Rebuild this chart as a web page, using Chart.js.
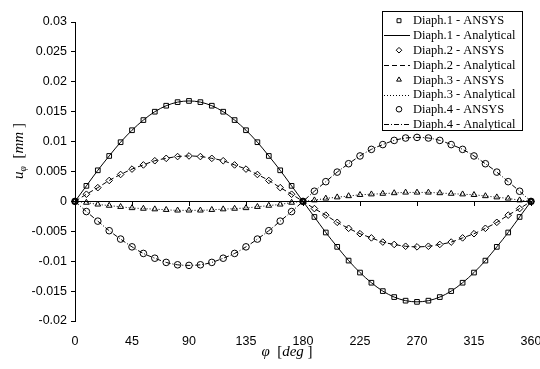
<!DOCTYPE html>
<html>
<head>
<meta charset="utf-8">
<script src="https://cdn.jsdelivr.net/npm/chart.js@4.4.1/dist/chart.umd.min.js"></script>
<style>
  html, body { margin: 0; padding: 0; background: #fff; }
</style>
</head>
<body>
<canvas id="diaphChart" width="540" height="369"></canvas>
<script>
// angular position of the nodes, deg
const angles = [0, 9, 18, 27, 36, 45, 54, 63, 72, 81, 90, 99, 108, 117, 126, 135, 144, 153, 162, 171,
  180, 189, 198, 207, 216, 225, 234, 243, 252, 261, 270, 279, 288, 297, 306, 315, 324, 333, 342, 351, 360];

// tangential displacement u_phi, mm
const diaph1 = [0, 0.0026, 0.0052, 0.0076, 0.0099, 0.0119, 0.0136, 0.0150, 0.0160, 0.0166, 0.0168,
  0.0166, 0.0160, 0.0150, 0.0136, 0.0119, 0.0099, 0.0076, 0.0052, 0.0026, 0,
  -0.0026, -0.0052, -0.0076, -0.0099, -0.0119, -0.0136, -0.0150, -0.0160, -0.0166, -0.0168,
  -0.0166, -0.0160, -0.0150, -0.0136, -0.0119, -0.0099, -0.0076, -0.0052, -0.0026, 0];
const diaph2 = [0, 0.0012, 0.0023, 0.0035, 0.0045, 0.0054, 0.0061, 0.0068, 0.0072, 0.0075, 0.0076,
  0.0075, 0.0072, 0.0068, 0.0061, 0.0054, 0.0045, 0.0035, 0.0023, 0.0012, 0,
  -0.0012, -0.0023, -0.0035, -0.0045, -0.0054, -0.0061, -0.0068, -0.0072, -0.0075, -0.0076,
  -0.0075, -0.0072, -0.0068, -0.0061, -0.0054, -0.0045, -0.0035, -0.0023, -0.0012, 0];
const diaph3 = [0, -0.0002, -0.0005, -0.0007, -0.0009, -0.0011, -0.0012, -0.0013, -0.0014, -0.0015, -0.0015,
  -0.0015, -0.0014, -0.0013, -0.0012, -0.0011, -0.0009, -0.0007, -0.0005, -0.0002, 0,
  0.0002, 0.0005, 0.0007, 0.0009, 0.0011, 0.0012, 0.0013, 0.0014, 0.0015, 0.0015,
  0.0015, 0.0014, 0.0013, 0.0012, 0.0011, 0.0009, 0.0007, 0.0005, 0.0002, 0];
const diaph4 = [0, -0.0017, -0.0033, -0.0049, -0.0063, -0.0076, -0.0087, -0.0095, -0.0102, -0.0106, -0.0107,
  -0.0106, -0.0102, -0.0095, -0.0087, -0.0076, -0.0063, -0.0049, -0.0033, -0.0017, 0,
  0.0017, 0.0033, 0.0049, 0.0063, 0.0076, 0.0087, 0.0095, 0.0102, 0.0106, 0.0107,
  0.0106, 0.0102, 0.0095, 0.0087, 0.0076, 0.0063, 0.0049, 0.0033, 0.0017, 0];

const xTicks = [0, 45, 90, 135, 180, 225, 270, 315, 360];
const yTicks = [-0.02, -0.015, -0.01, -0.005, 0, 0.005, 0.01, 0.015, 0.02, 0.025, 0.03];

const pts = ys => angles.map((a, i) => ({ x: a, y: ys[i] }));

function ansys(label, ys, style) {
  return {
    label, data: pts(ys), showLine: false, clip: false,
    pointStyle: style, pointRadius: 3.3, pointBorderWidth: 1,
    borderColor: '#000', pointBorderColor: '#000', pointBackgroundColor: 'rgba(0,0,0,0)'
  };
}
function analytical(label, ys, dash) {
  return {
    label, data: pts(ys), clip: false, pointRadius: 0,
    borderColor: '#000', borderWidth: 1, borderDash: dash,
    cubicInterpolationMode: 'monotone'
  };
}

// boxed legend inside the plot, top right
const boxLegend = {
  id: 'boxLegend',
  afterDraw(chart) {
    const ctx = chart.ctx;
    const x0 = 382, y0 = 11, w = 140, h = 119, row = 14.76;
    ctx.save();
    ctx.fillStyle = '#fff';
    ctx.fillRect(x0, y0, w, h);
    ctx.strokeStyle = '#000';
    ctx.lineWidth = 1;
    ctx.strokeRect(x0 + 0.5, y0 + 0.5, w, h);
    ctx.font = '12.5px "Liberation Serif"';
    ctx.textBaseline = 'middle';
    chart.data.datasets.forEach((ds, i) => {
      const cy = y0 + 9.7 + i * row;
      ctx.strokeStyle = '#000';
      ctx.lineWidth = 1;
      if (ds.showLine === false) {
        ctx.fillStyle = 'rgba(0,0,0,0)';
        Chart.helpers.drawPoint(ctx, { pointStyle: ds.pointStyle, radius: 2.8, borderWidth: 1 }, 399, cy);
      } else {
        ctx.setLineDash(ds.borderDash || []);
        ctx.beginPath();
        ctx.moveTo(384, Math.round(cy) + 0.5);
        ctx.lineTo(410, Math.round(cy) + 0.5);
        ctx.stroke();
        ctx.setLineDash([]);
      }
      ctx.fillStyle = '#000';
      ctx.fillText(ds.label, 413, cy + 0.5);
    });
    ctx.restore();
  }
};

// axis titles with italic symbols and subscript
function drawRuns(ctx, runs, cx, cy, angle, size) {
  ctx.save();
  ctx.translate(cx, cy);
  ctx.rotate(angle);
  const fontOf = r => (r.it ? 'italic ' : '') + (r.sub ? size * 0.65 : size) + 'px "Liberation Serif"';
  let total = 0;
  runs.forEach(r => { ctx.font = fontOf(r); r.w = ctx.measureText(r.t).width; total += r.w; });
  let x = -total / 2;
  ctx.fillStyle = '#000';
  ctx.textBaseline = 'alphabetic';
  runs.forEach(r => {
    ctx.font = fontOf(r);
    ctx.fillText(r.t, x, size * 0.35 + (r.sub ? 3 : 0));
    x += r.w;
  });
  ctx.restore();
}
const axisTitles = {
  id: 'axisTitles',
  afterDraw(chart) {
    const ctx = chart.ctx;
    drawRuns(ctx, [{ t: 'u', it: true }, { t: 'φ', it: true, sub: true }, { t: '  [' }, { t: 'mm', it: true }, { t: ' ]' }],
      18, 151, -Math.PI / 2, 15);
    drawRuns(ctx, [{ t: 'φ', it: true }, { t: '  [' }, { t: 'deg', it: true }, { t: ' ]' }],
      287, 351, 0, 15);
  }
};

const tickFont = { family: '"Liberation Sans"', size: 12.5 };

new Chart(document.getElementById('diaphChart'), {
  type: 'line',
  data: {
    datasets: [
      ansys('Diaph.1 - ANSYS', diaph1, 'rect'),
      analytical('Diaph.1 - Analytical', diaph1, []),
      ansys('Diaph.2 - ANSYS', diaph2, 'rectRot'),
      analytical('Diaph.2 - Analytical', diaph2, [5, 3]),
      ansys('Diaph.3 - ANSYS', diaph3, 'triangle'),
      analytical('Diaph.3 - Analytical', diaph3, [1, 2]),
      ansys('Diaph.4 - ANSYS', diaph4, 'circle'),
      analytical('Diaph.4 - Analytical', diaph4, [5, 2, 1, 2])
    ]
  },
  options: {
    responsive: false,
    animation: false,
    layout: { padding: { top: 22, right: 9, left: 0, bottom: 0 } },
    plugins: { legend: { display: false }, tooltip: { enabled: false } },
    scales: {
      x: {
        type: 'linear', position: { y: 0 }, min: 0, max: 360,
        afterBuildTicks: s => { s.ticks = xTicks.map(v => ({ value: v })); },
        ticks: { display: false },
        grid: { drawOnChartArea: false, tickLength: 4, color: '#000' },
        border: { color: '#000', width: 1 }
      },
      x2: {
        type: 'linear', position: 'bottom', min: 0, max: 360,
        afterBuildTicks: s => { s.ticks = xTicks.map(v => ({ value: v })); },
        afterFit: s => { s.height = 48; s.paddingLeft = 0; s.paddingRight = 0; },
        ticks: { font: tickFont, color: '#000', padding: 13, maxRotation: 0 },
        grid: { display: false, drawTicks: false },
        border: { display: false }
      },
      y: {
        type: 'linear', position: 'left', min: -0.02, max: 0.03,
        afterBuildTicks: s => { s.ticks = yTicks.map(v => ({ value: v })); },
        afterFit: s => { s.width = 75; },
        ticks: { font: tickFont, color: '#000', padding: 4, callback: v => String(+v.toFixed(4)) },
        grid: { drawOnChartArea: false, tickLength: 4, color: '#000' },
        border: { color: '#000', width: 1 }
      }
    }
  },
  plugins: [boxLegend, axisTitles]
});
</script>
</body>
</html>
